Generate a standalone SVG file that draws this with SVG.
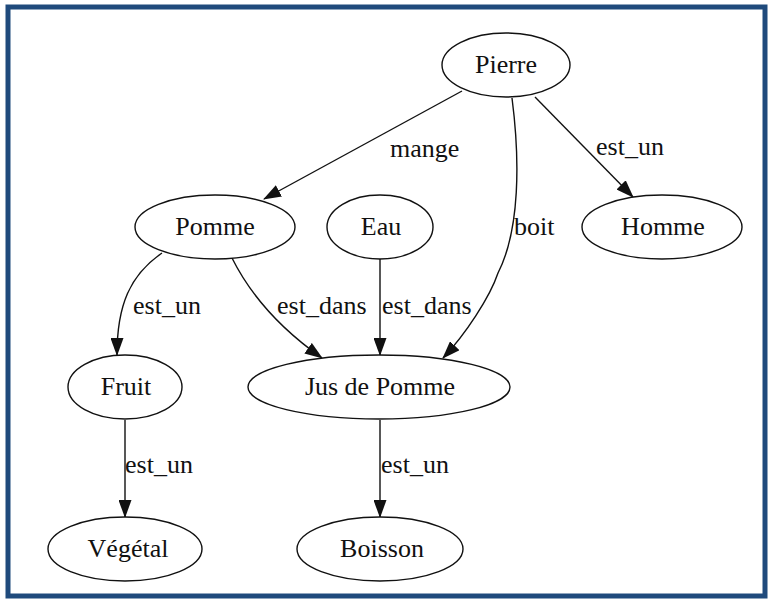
<svg xmlns="http://www.w3.org/2000/svg" width="773" height="603" viewBox="0 0 773 603">
  <style>
    .node ellipse { fill: #ffffff; stroke: #111111; stroke-width: 1.4; }
    .node text { font-family: "Liberation Serif", "Times New Roman", serif; font-size: 26px; fill: #111111; text-anchor: middle; }
    .edge path { fill: none; stroke: #111111; stroke-width: 1.4; marker-end: url(#arrow); }
    .label { font-family: "Liberation Serif", "Times New Roman", serif; font-size: 26px; fill: #111111; }
  </style>
  <defs>
    <marker id="arrow" markerUnits="userSpaceOnUse" viewBox="0 0 18 13" markerWidth="18" markerHeight="13" refX="17" refY="6.5" orient="auto">
      <path d="M0,0 L18,6.5 L0,13 z" fill="#111111"/>
    </marker>
  </defs>

  <rect x="0" y="0" width="773" height="603" fill="#ffffff"/>
  <rect x="8" y="7" width="757" height="589" fill="#ffffff" stroke="#1f4a7c" stroke-width="5"/>

  <!-- connectors -->
  <g id="edges" class="edge">
    <path d="M462,91 L264,199"/>
    <path d="M535,97 L633,197"/>
    <path d="M512,98 C520,160 520,230 498,273 C490,297 465,335 443,358"/>
    <path d="M162,253 C130,275 117,305 117,355"/>
    <path d="M232,258 C248,290 275,325 322,358"/>
    <path d="M380,258 L380,355"/>
    <path d="M125,420 L125,517"/>
    <path d="M380,420 L380,517"/>
  </g>

  <g id="edge-labels">
    <text class="label" x="390" y="157">mange</text>
    <text class="label" x="596" y="155">est_un</text>
    <text class="label" x="514" y="235">boit</text>
    <text class="label" x="133" y="314">est_un</text>
    <text class="label" x="277" y="314">est_dans</text>
    <text class="label" x="382" y="314">est_dans</text>
    <text class="label" x="125" y="473">est_un</text>
    <text class="label" x="381" y="473">est_un</text>
  </g>

  <g id="pierre" class="node">
    <ellipse cx="506" cy="65" rx="64" ry="32"/>
    <text x="506" y="73">Pierre</text>
  </g>
  <g id="pomme" class="node">
    <ellipse cx="215" cy="227" rx="80" ry="32"/>
    <text x="215" y="235">Pomme</text>
  </g>
  <g id="eau" class="node">
    <ellipse cx="380" cy="227" rx="53" ry="32"/>
    <text x="381" y="235">Eau</text>
  </g>
  <g id="homme" class="node">
    <ellipse cx="662" cy="227" rx="80" ry="32"/>
    <text x="663" y="235">Homme</text>
  </g>
  <g id="fruit" class="node">
    <ellipse cx="125" cy="387" rx="57" ry="32"/>
    <text x="126" y="395">Fruit</text>
  </g>
  <g id="jus-de-pomme" class="node">
    <ellipse cx="379" cy="387" rx="131" ry="32"/>
    <text x="380" y="395">Jus de Pomme</text>
  </g>
  <g id="vegetal" class="node">
    <ellipse cx="125" cy="549" rx="77" ry="32"/>
    <text x="128" y="557">Végétal</text>
  </g>
  <g id="boisson" class="node">
    <ellipse cx="380" cy="549" rx="83" ry="32"/>
    <text x="382" y="557">Boisson</text>
  </g>
</svg>
